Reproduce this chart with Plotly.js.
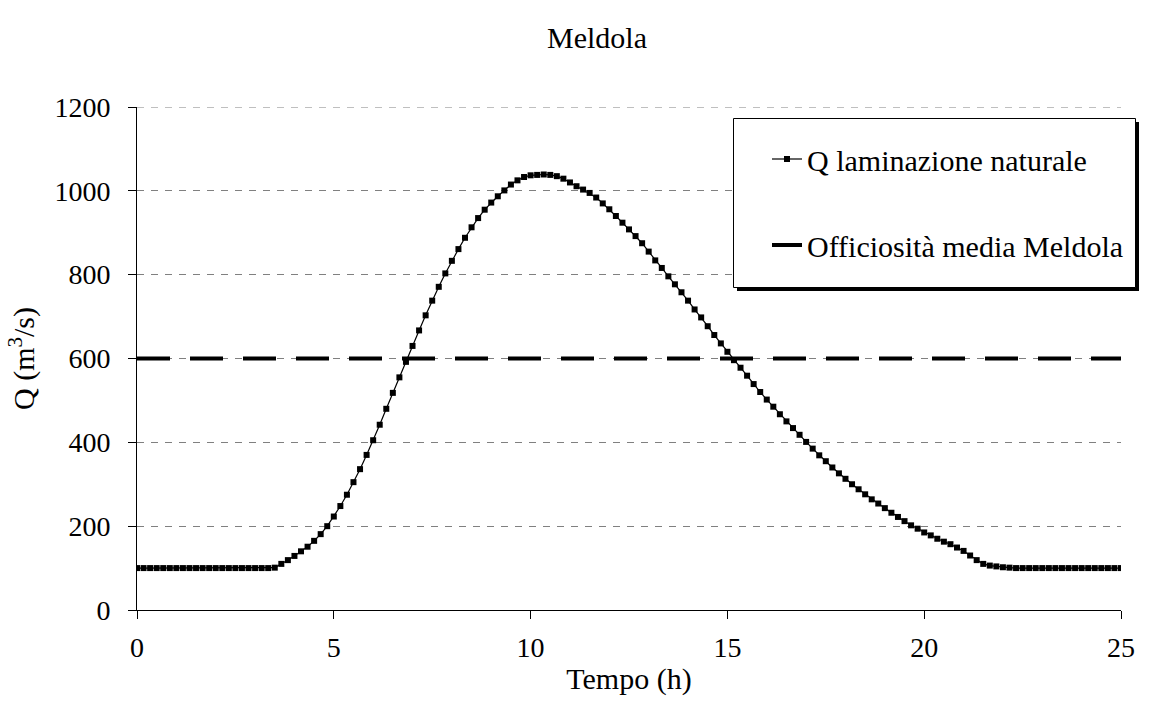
<!DOCTYPE html>
<html>
<head>
<meta charset="utf-8">
<script src="https://cdn.plot.ly/plotly-3.0.1.min.js"></script>
<style>html,body{margin:0;padding:0;background:#fff;}#chart{width:1153px;height:713px;}</style>
</head>
<body>
<div id="chart"></div>
<script>
// Time step of the hydrograph: 10 minutes (1/6 h), starting at 0 h
const startHour = 0;
const stepHours = 1 / 6;

// Q laminazione naturale (m3/s), one value every 10 minutes from 0 h to 25 h
const qLaminazione = [
  100, 100, 100, 100, 100, 100, 100, 100, 100, 100,
  100, 100, 100, 100, 100, 100, 100, 100, 100, 100,
  100, 101, 110, 119, 129, 140, 151, 165, 181, 200,
  223, 248, 275, 305, 336, 370, 405, 442, 480, 518,
  555, 592, 630, 667, 703, 738, 771, 803, 833, 861,
  888, 913, 935, 955, 972, 987, 1001, 1015, 1025, 1033,
  1037, 1038, 1039, 1038, 1035, 1029, 1020, 1011, 1003, 995,
  984, 970, 956, 940, 924, 908, 892, 875, 855, 834,
  816, 796, 777, 758, 738, 717, 698, 677, 656, 636,
  616, 596, 578, 559, 539, 520, 502, 485, 467, 450,
  434, 418, 401, 385, 369, 355, 340, 326, 313, 300,
  288, 276, 264, 254, 243, 232, 222, 212, 202, 194,
  185, 178, 170, 163, 157, 149, 141, 130, 119, 110,
  106, 104, 102, 101, 100, 100, 100, 100, 100, 100,
  100, 100, 100, 100, 100, 100, 100, 100, 100, 100,
  100
];

// Officiosità media Meldola (constant reference discharge)
const officiositaX = [0, 25];
const officiositaY = [600, 600];

const xTicks = [0, 5, 10, 15, 20, 25];
const yTicks = [0, 200, 400, 600, 800, 1000, 1200];

const serif = '"Liberation Serif", "Times New Roman", serif';
const FS = 30;
const TFS = 28;

const traces = [
  {
    type: 'scatter',
    mode: 'lines+markers',
    name: 'Q laminazione naturale',
    legendgroup: 'a',
    y: qLaminazione,
    x0: startHour,
    dx: stepHours,
    line: {color: '#000', width: 1.2},
    marker: {symbol: 'square', size: 6, color: '#000'},
    hoverinfo: 'x+y'
  },
  {
    type: 'scatter',
    mode: 'lines',
    name: 'Officiosità media Meldola',
    legendgroup: 'b',
    x: officiositaX,
    y: officiositaY,
    line: {color: '#000', width: 4, dash: '33px,20px'},
    hoverinfo: 'y'
  }
];

const L = 137, R = 1121, T = 107, B = 610;
const W = R - L, H = B - T;
function px(x) { return (x - L) / W; }
function py(y) { return (B - y) / H; }

const layout = {
  width: 1153,
  height: 713,
  margin: {l: L, r: 1153 - R, t: T, b: 713 - B, pad: 0},
  paper_bgcolor: '#fff',
  plot_bgcolor: '#fff',
  font: {family: serif, color: '#000', size: FS},
  title: {
    text: 'Meldola',
    font: {family: serif, size: FS, color: '#000'},
    x: 597 / 1153, xref: 'container', xanchor: 'center',
    y: 1 - 37 / 713, yref: 'container', yanchor: 'middle'
  },
  xaxis: {
    range: [0, 25],
    tickvals: xTicks,
    ticktext: xTicks.map(String),
    showgrid: false,
    zeroline: false,
    showline: true,
    linecolor: '#000',
    linewidth: 1,
    ticks: 'outside',
    ticklen: 8,
    tickcolor: '#000',
    ticklabelstandoff: 4,
    tickfont: {family: serif, size: TFS, color: '#000'},
    title: {text: 'Tempo (h)', font: {family: serif, size: FS, color: '#000'}, standoff: 6}
  },
  yaxis: {
    range: [0, 1200],
    tickvals: yTicks,
    ticktext: yTicks.map(String),
    showgrid: true,
    gridcolor: '#808080',
    gridwidth: 1,
    griddash: '7px,7px',
    zeroline: false,
    showline: true,
    linecolor: '#000',
    linewidth: 1,
    ticks: 'outside',
    ticklen: 8,
    tickcolor: '#000',
    ticklabelstandoff: 12,
    tickfont: {family: serif, size: TFS, color: '#000'},
    title: {text: 'Q (m<sup>3</sup>/s)', font: {family: serif, size: FS, color: '#000'}, standoff: 10}
  },
  showlegend: true,
  legend: {
    x: px(767), y: py(133), xanchor: 'left', yanchor: 'top',
    bgcolor: 'rgba(0,0,0,0)', borderwidth: 0,
    font: {family: serif, size: FS, color: '#000'},
    traceorder: 'grouped',
    tracegroupgap: 44
  },
  shapes: [
    {type: 'line', xref: 'paper', yref: 'y', layer: 'below',
     x0: 0, x1: 1, y0: 1200, y1: 1200,
     line: {color: '#808080', width: 1, dash: '7px,7px'}},
    {type: 'rect', xref: 'paper', yref: 'paper', layer: 'above',
     x0: px(737), x1: px(1139), y0: py(291), y1: py(122),
     fillcolor: '#000', line: {width: 0}},
    {type: 'rect', xref: 'paper', yref: 'paper', layer: 'above',
     x0: px(733.5), x1: px(1135.5), y0: py(287.5), y1: py(118.5),
     fillcolor: '#fff', line: {color: '#000', width: 1}}
  ],
  hovermode: 'closest'
};

Plotly.newPlot('chart', traces, layout, {displayModeBar: false});
</script>
</body>
</html>
